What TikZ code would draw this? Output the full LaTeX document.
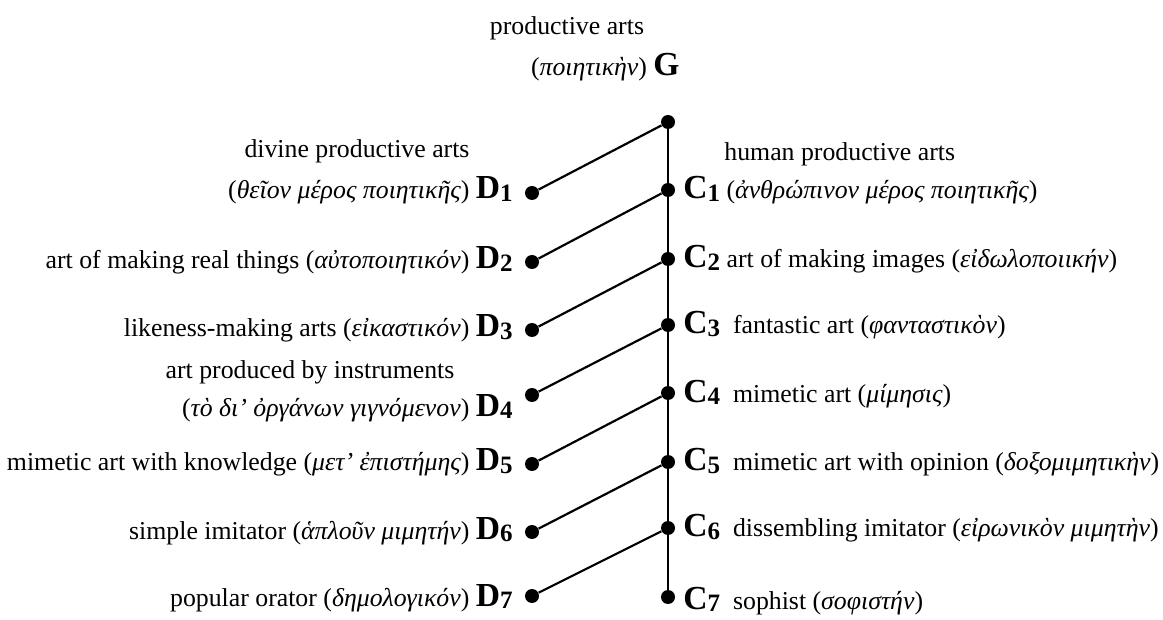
\documentclass[tikz,border=0pt]{standalone}
\usepackage{fontspec}
\setmainfont{Liberation Serif}
\usetikzlibrary{positioning}

% italic greek and the bold letters with their numbers
\newcommand{\gr}[1]{{\itshape #1}}
\newcommand{\arttag}[2]{{\fontsize{16.8}{16.8}\selectfont\bfseries #1\raisebox{-1.4pt}{\fontsize{12.5}{12.5}\selectfont #2}}}

\tikzset{
    dot/.style={circle, fill=black, inner sep=0pt, minimum size=7pt},
    lbl/.style={inner sep=0pt, font=\fontsize{12.9}{15}\selectfont},
    branch/.style={line width=1.1pt}
}

\begin{document}
\begin{tikzpicture}[x=0.5pt, y=-0.5pt]
    \useasboundingbox (0,0) rectangle (1163,620);

    % the points on the main stem
    \node[dot] (G) at (668,122) {};
    \node[dot] (C1) at (668,190) {};
    \node[dot] (C2) at (668,259) {};
    \node[dot] (C3) at (668,325) {};
    \node[dot] (C4) at (668,393) {};
    \node[dot] (C5) at (668,462) {};
    \node[dot] (C6) at (668,528) {};
    \node[dot] (C7) at (668,597) {};

    % the points on the left side
    \node[dot] (D1) at (532,193) {};
    \node[dot] (D2) at (532,262) {};
    \node[dot] (D3) at (532,330) {};
    \node[dot] (D4) at (532,395) {};
    \node[dot] (D5) at (532,464) {};
    \node[dot] (D6) at (532,532) {};
    \node[dot] (D7) at (532,596) {};

    % draw the lines
    \draw[branch] (G) -- (C7);
    \draw[branch] (D1) -- (G);
    \draw[branch] (D2) -- (C1);
    \draw[branch] (D3) -- (C2);
    \draw[branch] (D4) -- (C3);
    \draw[branch] (D5) -- (C4);
    \draw[branch] (D6) -- (C5);
    \draw[branch] (D7) -- (C6);

    % the top
    \node[lbl, anchor=base] (Gname) at (567,35) {productive arts};
    \node[lbl, anchor=base east] (Gtxt) at (680,76) {(\gr{ποιητικὴν}) \arttag{G}{}};

    % the texts on the left
    \node[lbl, anchor=base] (D1name) at (357,158) {divine productive arts};
    \node[lbl, anchor=base east] (D1txt) at (513,199) {(\gr{θεῖον μέρος ποιητικῆς}) \arttag{D}{1}};
    \node[lbl, anchor=base east] (D2txt) at (513,269) {art of making real things (\gr{αὐτοποιητικόν}) \arttag{D}{2}};
    \node[lbl, anchor=base east] (D3txt) at (513,337) {likeness-making arts (\gr{εἰκαστικόν}) \arttag{D}{3}};
    \node[lbl, anchor=base] (D4name) at (310,379) {art produced by instruments};
    \node[lbl, anchor=base east] (D4txt) at (513,416) {(\gr{τὸ δι’ ὀργάνων γιγνόμενον}) \arttag{D}{4}};
    \node[lbl, anchor=base east] (D5txt) at (513,471) {mimetic art with knowledge (\gr{μετ’ ἐπιστήμης}) \arttag{D}{5}};
    \node[lbl, anchor=base east] (D6txt) at (513,539) {simple imitator (\gr{ἁπλοῦν μιμητήν}) \arttag{D}{6}};
    \node[lbl, anchor=base east] (D7txt) at (513,606) {popular orator (\gr{δημολογικόν}) \arttag{D}{7}};

    % the texts on the right
    \node[lbl, anchor=base west] (C1name) at (724,161) {human productive arts};
    \node[lbl, anchor=base west] (C1txt) at (683,199) {\arttag{C}{1} (\gr{ἀνθρώπινον μέρος ποιητικῆς})};
    \node[lbl, anchor=base west] (C2txt) at (683,268) {\arttag{C}{2} art of making images (\gr{εἰδωλοποιικήν})};
    \node[lbl, anchor=base west] (C3txt) at (683,334) {\arttag{C}{3}\ \ fantastic art (\gr{φανταστικὸν})};
    \node[lbl, anchor=base west] (C4txt) at (683,402) {\arttag{C}{4}\ \ mimetic art (\gr{μίμησις})};
    \node[lbl, anchor=base west] (C5txt) at (683,471) {\arttag{C}{5}\ \ mimetic art with opinion (\gr{δοξομιμητικὴν})};
    \node[lbl, anchor=base west] (C6txt) at (683,537) {\arttag{C}{6}\ \ dissembling imitator (\gr{εἰρωνικὸν μιμητὴν})};
    \node[lbl, anchor=base west] (C7txt) at (683,609) {\arttag{C}{7}\ \ sophist (\gr{σοφιστήν})};

\end{tikzpicture}
\end{document}
